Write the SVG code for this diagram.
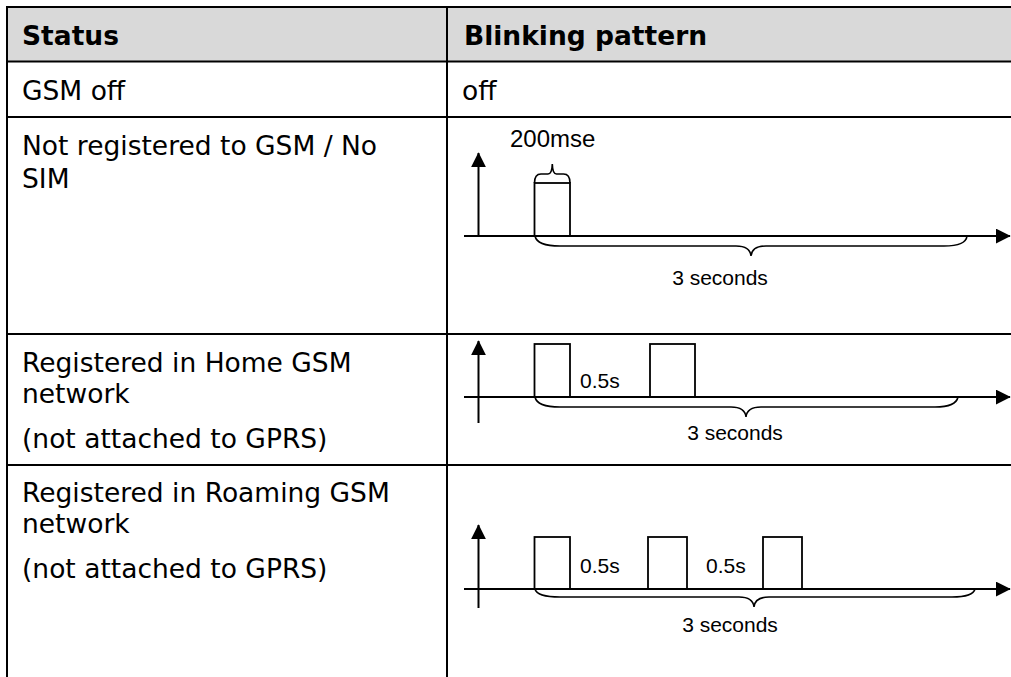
<svg xmlns="http://www.w3.org/2000/svg" width="1011" height="677" viewBox="0 0 1011 677">
  <style>
    .cell { font-family: "DejaVu Sans", Verdana, sans-serif; font-size: 26.5px; fill: #000; }
    .hdr { font-family: "DejaVu Sans", Verdana, sans-serif; font-size: 26.5px; font-weight: bold; fill: #000; }
    .grid { stroke: #000; stroke-width: 2; fill: none; }
    .lbl { font-family: "Liberation Sans", Arial, sans-serif; font-size: 21px; fill: #000; }
    .lbl2 { font-family: "Liberation Sans", Arial, sans-serif; font-size: 24px; fill: #000; }
    .axis { stroke: #000; stroke-width: 2; fill: none; }
    .pulse { stroke: #000; stroke-width: 1.8; fill: none; }
    .brace { stroke: #000; stroke-width: 1.6; fill: none; }
  </style>
  <defs>
    <marker id="arrow" markerUnits="userSpaceOnUse" viewBox="0 0 10 10" markerWidth="15" markerHeight="15" refX="9.5" refY="5" orient="auto">
      <path d="M0,0 L10,5 L0,10 z" fill="#000"/>
    </marker>
  </defs>

  <rect x="0" y="0" width="1011" height="677" fill="#fff"/>

  <g id="table">
    <rect x="8" y="7" width="1003" height="54.5" fill="#d9d9d9"/>
    <line class="grid" x1="7" y1="7" x2="1011" y2="7"/>
    <line class="grid" x1="7" y1="61.5" x2="1011" y2="61.5"/>
    <line class="grid" x1="7" y1="117" x2="1011" y2="117"/>
    <line class="grid" x1="7" y1="334" x2="1011" y2="334"/>
    <line class="grid" x1="7" y1="465" x2="1011" y2="465"/>
    <line class="grid" x1="7" y1="6" x2="7" y2="677"/>
    <line class="grid" x1="447" y1="6" x2="447" y2="677"/>
  </g>

  <g id="header">
    <text class="hdr" x="22" y="45">Status</text>
    <text class="hdr" x="464" y="45">Blinking pattern</text>
  </g>

  <g id="row-gsm-off">
    <text class="cell" x="22" y="100">GSM off</text>
    <text class="cell" x="462" y="100">off</text>
  </g>

  <g id="row-not-registered">
    <text class="cell" x="22" y="155">Not registered to GSM / No</text>
    <text class="cell" x="22" y="188">SIM</text>
    <g id="pattern-1">
      <rect class="pulse" x="534.5" y="183" width="35.5" height="53"/>
      <path class="brace" d="M534.5,183 Q534.5,174 541,174 L548,174 Q552,174 552.3,164 Q552.6,174 556.5,174 L563.5,174 Q570,174 570,183"/>
      <text class="lbl2" x="510" y="147">200mse</text>
      <path class="brace" d="M535,236 Q537,246 560,246 L736,246 Q750,246 751,256 Q752,246 766,246 L944,246 Q966,246 967,236"/>
      <text class="lbl" x="720" y="285" text-anchor="middle">3 seconds</text>
    </g>
  </g>

  <g id="row-home">
    <text class="cell" x="22" y="372">Registered in Home GSM</text>
    <text class="cell" x="22" y="403">network</text>
    <text class="cell" x="22" y="448">(not attached to GPRS)</text>
    <g id="pattern-2">
      <rect class="pulse" x="534.5" y="344" width="35.5" height="53"/>
      <rect class="pulse" x="650" y="344" width="45" height="53"/>
      <text class="lbl" x="580" y="388">0.5s</text>
      <path class="brace" d="M535,397 Q537,407 560,407 L731,407 Q745,407 746,417 Q747,407 761,407 L935,407 Q956,407 958,397"/>
      <text class="lbl" x="735" y="440" text-anchor="middle">3 seconds</text>
    </g>
  </g>

  <g id="row-roaming">
    <text class="cell" x="22" y="502">Registered in Roaming GSM</text>
    <text class="cell" x="22" y="533">network</text>
    <text class="cell" x="22" y="578">(not attached to GPRS)</text>
    <g id="pattern-3">
      <rect class="pulse" x="534.5" y="537" width="35.5" height="52"/>
      <rect class="pulse" x="648" y="537" width="39" height="52"/>
      <rect class="pulse" x="763" y="537" width="39" height="52"/>
      <text class="lbl" x="580" y="573">0.5s</text>
      <text class="lbl" x="706" y="573">0.5s</text>
      <path class="brace" d="M535,589 Q537,597 560,597 L739,597 Q753,597 754,607 Q755,597 769,597 L952,597 Q973,597 975,589"/>
      <text class="lbl" x="730" y="632" text-anchor="middle">3 seconds</text>
    </g>
  </g>

  <g id="connectors">
    <line class="axis" x1="478.5" y1="236" x2="478.5" y2="153" marker-end="url(#arrow)"/>
    <line class="axis" x1="464" y1="236" x2="1010" y2="236" marker-end="url(#arrow)"/>
    <line class="axis" x1="478.5" y1="423" x2="478.5" y2="341" marker-end="url(#arrow)"/>
    <line class="axis" x1="464" y1="397" x2="1010" y2="397" marker-end="url(#arrow)"/>
    <line class="axis" x1="478.5" y1="608" x2="478.5" y2="525" marker-end="url(#arrow)"/>
    <line class="axis" x1="464" y1="589" x2="1010" y2="589" marker-end="url(#arrow)"/>
  </g>
</svg>
